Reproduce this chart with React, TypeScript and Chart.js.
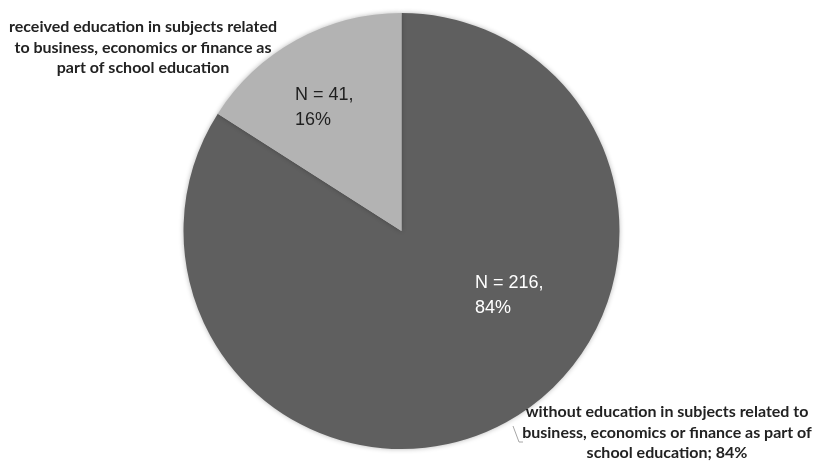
import React, { useEffect, useRef } from "react";
import { Chart, registerables } from "chart.js";

Chart.register(...registerables);

const categories = [
  "without education in subjects related to business, economics or finance as part of school education",
  "received education in subjects related to business, economics or finance as part of school education",
];
const counts = [216, 41];
const percentLabels = ["84%", "16%"];
const sliceColors = ["#5f5f5f", "#b3b3b3"];
const outerLabelLines = [
  ["without education in subjects related to", "business, economics or finance as part of", "school education; 84%"],
  ["received education in subjects related", "to business, economics or finance as", "part of school education"],
];

const shadowPlugin = {
  id: "pieShadow",
  beforeDatasetsDraw(chart: any) {
    const ctx = chart.ctx;
    ctx.save();
    ctx.shadowColor = "rgba(0,0,0,0.28)";
    ctx.shadowBlur = 5;
    ctx.shadowOffsetX = 0;
    ctx.shadowOffsetY = 0;
  },
  afterDatasetsDraw(chart: any) {
    chart.ctx.restore();
  },
};

const labelPlugin = {
  id: "pieLabels",
  afterDatasetsDraw(chart: any) {
    const ctx = chart.ctx;
    const meta = chart.getDatasetMeta(0);
    const arc0 = meta.data[0];
    const cx = arc0.x;
    const cy = arc0.y;
    ctx.save();
    ctx.shadowColor = "transparent";
    // inside value labels
    ctx.font = '18px "Liberation Sans", Arial, sans-serif';
    ctx.textAlign = "left";
    ctx.textBaseline = "middle";
    const inside = [
      { dx: 73.5, dy: 52, color: "#ffffff" },
      { dx: -106.5, dy: -136, color: "#1f1f1f" },
    ];
    counts.forEach((c, i) => {
      const p = inside[i];
      ctx.fillStyle = p.color;
      ctx.fillText(`N = ${c},`, cx + p.dx, cy + p.dy);
      ctx.fillText(percentLabels[i], cx + p.dx, cy + p.dy + 25);
    });
    // outer category labels
    ctx.font = 'bold 16px Lato, "Noto Sans", sans-serif';
    ctx.textAlign = "center";
    ctx.fillStyle = "#222222";
    const outer = [
      { x: 667, y: 412 },
      { x: 143, y: 27 },
    ];
    outerLabelLines.forEach((lines, i) => {
      lines.forEach((ln, j) => {
        ctx.fillText(ln, outer[i].x, outer[i].y + j * 20.5);
      });
    });
    // leader line
    ctx.strokeStyle = "#a6a6a6";
    ctx.lineWidth = 1;
    ctx.beginPath();
    ctx.moveTo(513, 426);
    ctx.lineTo(519, 442);
    ctx.lineTo(523, 442);
    ctx.stroke();
    ctx.restore();
  },
};

export default function App() {
  const ref = useRef<HTMLCanvasElement>(null);
  useEffect(() => {
    document.body.style.margin = "0";
    const chart = new Chart(ref.current!, {
      type: "pie",
      data: {
        labels: categories,
        datasets: [
          {
            data: counts,
            backgroundColor: sliceColors,
            borderWidth: 0,
          },
        ],
      },
      options: {
        animation: false,
        responsive: false,
        maintainAspectRatio: false,
        layout: { padding: { top: 13, bottom: 13, left: 0, right: 17 } },
        plugins: {
          legend: { display: false },
          tooltip: { enabled: false },
        },
      },
      plugins: [shadowPlugin, labelPlugin],
    });
    return () => chart.destroy();
  }, []);
  return (
    <div style={{ width: 820, height: 462, background: "#ffffff" }}>
      <canvas ref={ref} width={820} height={462} />
    </div>
  );
}
